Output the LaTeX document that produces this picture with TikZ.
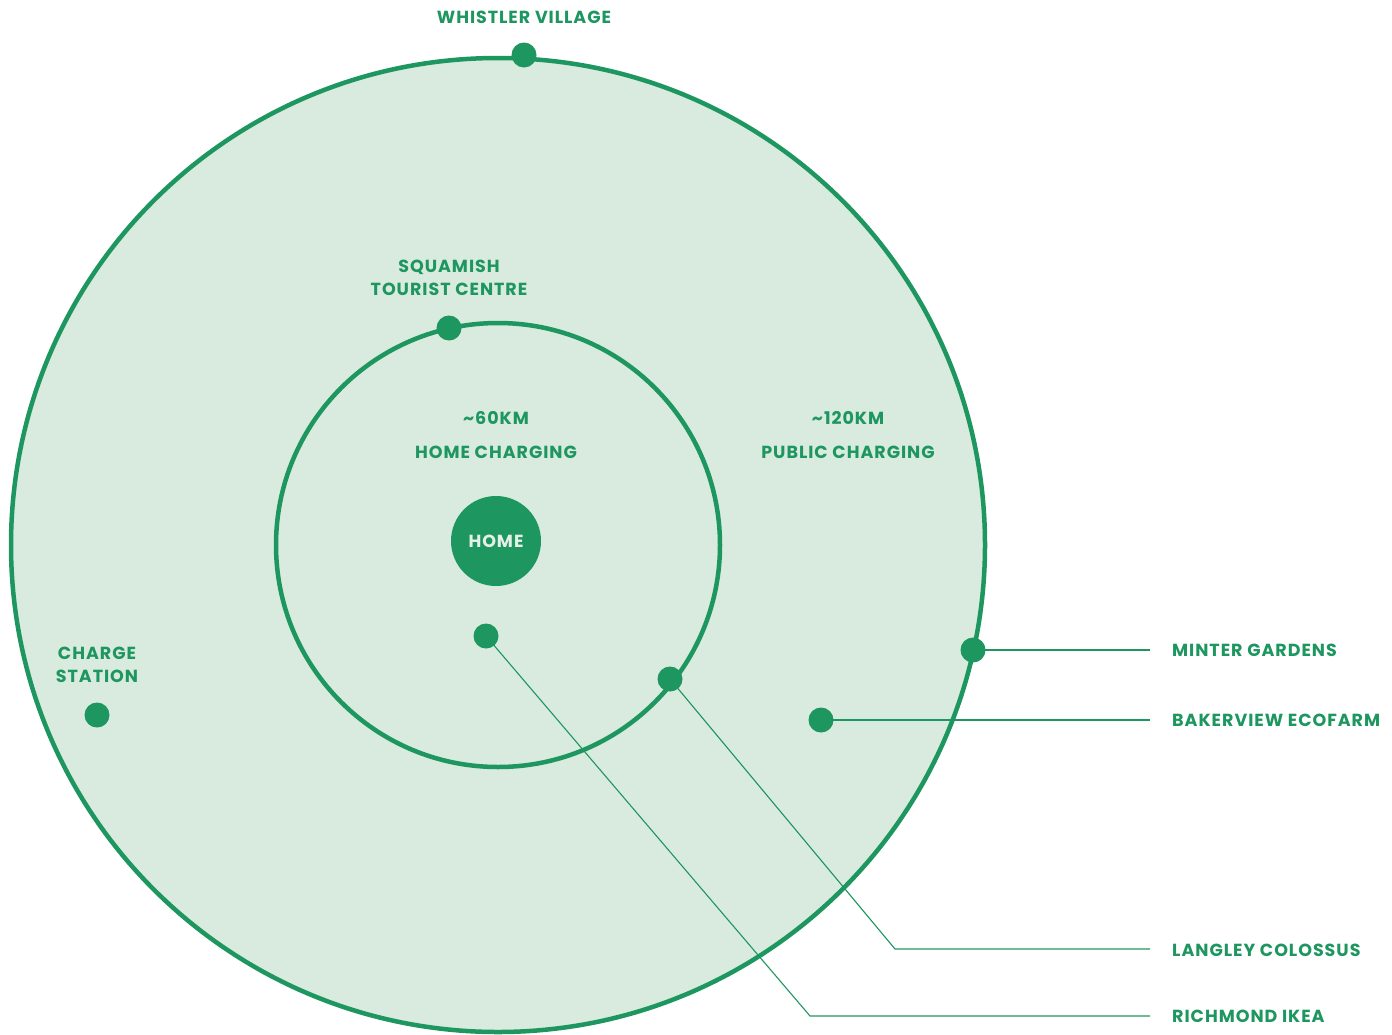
\documentclass[tikz,border=0pt]{standalone}
\usepackage{fontspec}
\setmainfont{Poppins}[UprightFont={* Bold},BoldFont={* Bold},LetterSpace=5.5]
\definecolor{vgreen}{HTML}{1E9660}
\definecolor{vfill}{HTML}{D9EADF}
\definecolor{vlight}{HTML}{E6F0E8}
\begin{document}
\begin{tikzpicture}[x=1pt,y=-1pt,
  ring/.style={draw=vgreen,line width=4.5pt},
  dot/.style={circle,fill=vgreen,inner sep=0pt,minimum size=25pt},
  lbl/.style={text=vgreen,font=\fontsize{17.5}{23}\selectfont,inner sep=0pt,text height=12pt,text depth=0pt,align=center},
  lead/.style={draw=vgreen,line width=1.1pt}]
\useasboundingbox (0,0) rectangle (1392,1034);
% circles
\fill[vfill] (498,545) circle (487);
\draw[ring] (498,545) circle (487);
\draw[ring] (498,545) circle (222);
\node[circle,fill=vgreen,inner sep=0pt,minimum size=90pt] (home) at (496,541) {};
\node[text=vlight,font=\fontsize{17.5}{20}\selectfont,inner sep=0pt,text height=12pt,text depth=0pt] (homelbl) at (496,541) {HOME};
% labels in circles
\node[lbl] (whistlerlbl) at (524,17) {WHISTLER VILLAGE};
\node[lbl] (squamishlbl1) at (449,266) {SQUAMISH};
\node[lbl] (squamishlbl2) at (449,289) {TOURIST CENTRE};
\node[lbl] (km60) at (496,418) {\textasciitilde60KM};
\node[lbl] (homecharging) at (496,452) {HOME CHARGING};
\node[lbl] (km120) at (848,418) {\textasciitilde120KM};
\node[lbl] (publiccharging) at (848,452) {PUBLIC CHARGING};
\node[lbl] (chargelbl1) at (97,653) {CHARGE};
\node[lbl] (chargelbl2) at (97,676) {STATION};
% right labels
\node[lbl,anchor=west] (minterlbl) at (1172,650) {MINTER GARDENS};
\node[lbl,anchor=west] (bakerlbl) at (1172,720) {BAKERVIEW ECOFARM};
\node[lbl,anchor=west] (langleylbl) at (1172,950) {LANGLEY COLOSSUS};
\node[lbl,anchor=west] (richmondlbl) at (1172,1016) {RICHMOND IKEA};
% leader coordinates
\coordinate (minterend) at (1150,650);
\coordinate (bakerend) at (1150,720);
\coordinate (langleycorner) at (895,949);
\coordinate (langleyend) at (1150,949);
\coordinate (richmondcorner) at (810,1016);
\coordinate (richmondend) at (1150,1016);
% dot positions
\coordinate (pminter) at (973,650);
\coordinate (pbaker) at (821,720);
\coordinate (plangley) at (670,679);
\coordinate (prichmond) at (486,636);
% leaders
\draw[lead] (pminter) -- (minterend);
\draw[lead] (pbaker) -- (bakerend);
\draw[lead] (plangley) -- (langleycorner) -- (langleyend);
\draw[lead] (prichmond) -- (richmondcorner) -- (richmondend);
% dots
\node[dot] (whistler) at (524,55) {};
\node[dot] (squamish) at (449,328) {};
\node[dot] (charge) at (97,715) {};
\node[dot] (richmond) at (prichmond) {};
\node[dot] (langley) at (plangley) {};
\node[dot] (minter) at (pminter) {};
\node[dot] (bakerview) at (pbaker) {};
\end{tikzpicture}
\end{document}
